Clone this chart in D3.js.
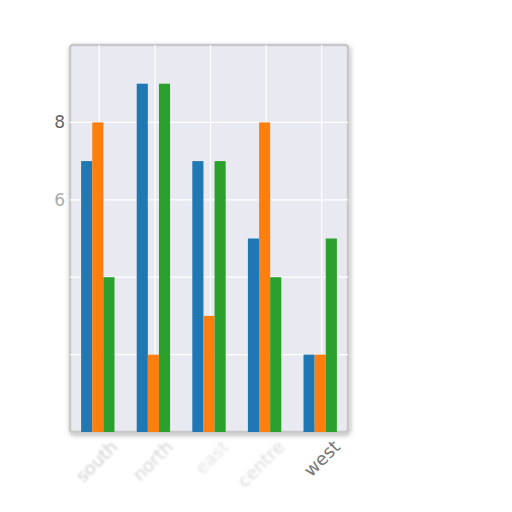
<!DOCTYPE html>
<html>
<head>
<meta charset="utf-8">
<script src="https://cdn.jsdelivr.net/npm/d3@7"></script>
<style>
  html, body { margin: 0; padding: 0; background: #fff; }
  svg { display: block; font-family: "DejaVu Sans", sans-serif; }
</style>
</head>
<body>
<div id="chart"></div>
<script>
// categories and the three series
const categories = ["south", "north", "east", "centre", "west"];
const seriesA = [7, 9, 7, 5, 2];   // blue
const seriesB = [8, 2, 3, 8, 2];   // orange
const seriesC = [4, 9, 7, 4, 5];   // green
const gridTicks = [2, 4, 6, 8];
const labelTicks = [6, 8];

const W = 512, H = 512;
const m = { left: 70, right: 164, top: 45, bottom: 80 };
const colors = ["#1f77b4", "#ff7f0e", "#2ca02c"];

const svg = d3.select("#chart").append("svg")
  .attr("width", W).attr("height", H);

const defs = svg.append("defs");
const shadow = defs.append("filter").attr("id", "shadow")
  .attr("x", "-10%").attr("y", "-10%").attr("width", "120%").attr("height", "120%");
shadow.append("feDropShadow")
  .attr("dx", 1).attr("dy", 2).attr("stdDeviation", 2.5)
  .attr("flood-color", "#000").attr("flood-opacity", 0.3);
defs.append("filter").attr("id", "blur")
  .append("feGaussianBlur").attr("stdDeviation", 1.3);

const x = d3.scaleBand()
  .domain(categories)
  .range([m.left, W - m.right]);
const y = d3.scaleLinear()
  .domain([0, 10])
  .range([H - m.bottom, m.top]);

const series = [seriesA, seriesB, seriesC];
const sub = d3.scaleBand()
  .domain(d3.range(series.length))
  .range([0, x.bandwidth() * 0.6]);

// plot background + frame
svg.append("rect")
  .attr("x", m.left).attr("y", m.top)
  .attr("width", W - m.left - m.right).attr("height", H - m.top - m.bottom)
  .attr("rx", 3)
  .attr("fill", "#e9e9f1")
  .attr("stroke", "#c8c8c8")
  .attr("stroke-width", 2.5)
  .attr("filter", "url(#shadow)");

// grid
const g = svg.append("g");
g.selectAll("line.h").data(gridTicks).join("line")
  .attr("class", "h")
  .attr("x1", m.left).attr("x2", W - m.right)
  .attr("y1", d => y(d)).attr("y2", d => y(d))
  .attr("stroke", "#fff").attr("stroke-width", 1.2);
g.selectAll("line.v").data(categories).join("line")
  .attr("class", "v")
  .attr("x1", d => x(d) + x.bandwidth() / 2 + 1.5)
  .attr("x2", d => x(d) + x.bandwidth() / 2 + 1.5)
  .attr("y1", m.top).attr("y2", H - m.bottom)
  .attr("stroke", "#fff").attr("stroke-width", 1.2);

// bars
series.forEach((vals, si) => {
  svg.append("g").selectAll("rect").data(vals).join("rect")
    .attr("x", (d, i) => x(categories[i]) + x.bandwidth() * 0.2 + sub(si))
    .attr("width", sub.bandwidth())
    .attr("y", d => y(d))
    .attr("height", d => y(0) - y(d))
    .attr("fill", colors[si]);
});

// y tick labels
svg.append("g").selectAll("text").data(labelTicks).join("text")
  .attr("x", m.left - 5)
  .attr("y", d => y(d))
  .attr("dy", "0.35em")
  .attr("text-anchor", "end")
  .attr("font-size", 17)
  .attr("fill", d => d === 8 ? "#666" : "#aaa")
  .text(d => d);

// x tick labels, rotated
const fade = ["#cfcfcf", "#d4d4d4", "#e4e4e4", "#dadada", "#777"];
svg.append("g").selectAll("text").data(categories).join("text")
  .attr("transform", d => `translate(${x(d) + x.bandwidth() / 2 + 21},${H - m.bottom + 16}) rotate(-45)`)
  .attr("text-anchor", "end")
  .attr("font-size", 18)
  .attr("fill", (d, i) => fade[i])
  .attr("filter", (d, i) => i < 4 ? "url(#blur)" : null)
  .text(d => d);
</script>
</body>
</html>
